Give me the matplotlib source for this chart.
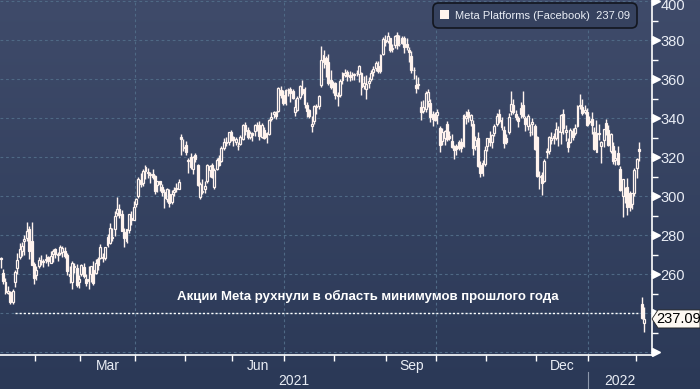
import matplotlib
matplotlib.use("Agg")
import matplotlib.pyplot as plt
import matplotlib.transforms as mtransforms
from matplotlib.colors import LinearSegmentedColormap
from matplotlib.patches import FancyBboxPatch, Polygon, Rectangle
from matplotlib.ticker import MultipleLocator
import numpy as np
import pandas as pd

plt.rcParams["font.family"] = ["Liberation Sans", "DejaVu Sans"]

# Meta Platforms (Facebook) daily candles, 8 Jan 2021 - 4 Feb 2022
opens = [
    268.3, 260.5, 256.0, 250.6, 251.1, 245.8, 256.0, 263.0, 269.0, 272.0, 277.0, 278.5, 283.0, 277.2, 265.4,
    259.5, 264.0, 266.7, 267.0, 267.5, 268.8, 266.0, 270.6, 273.0, 269.8, 270.7, 271.4, 272.0, 269.9, 258.9, 256.0, 263.8, 263.0, 255.9,
    260.4, 263.7, 257.8, 256.6, 260.0, 262.3, 260.7, 268.0, 268.4, 268.7, 268.5, 275.0, 276.0, 279.3, 283.0, 291.6, 293.6, 291.0, 281.8, 277.0, 282.5, 289.0, 288.0,
    296.0, 300.0, 308.5, 307.0, 315.0, 312.0, 310.9, 311.5, 310.5, 306.0, 307.7, 305.0, 302.0, 298.5, 301.0, 297.0, 302.1, 304.5, 304.0, 330.5, 325.0,
    326.2, 318.2, 320.0, 314.0, 321.0, 316.0, 299.5, 302.0, 304.0, 307.7, 313.5, 316.0, 304.8, 314.0, 319.5, 318.0, 325.0, 327.4, 327.7, 333.0,
    330.2, 328.0, 326.0, 327.0, 329.5, 336.7, 334.0, 330.4, 332.6, 333.5, 336.1, 336.5, 330.5, 334.0, 330.2, 332.2, 339.6, 342.2, 343.0, 344.0, 354.5, 352.0,
    347.7, 354.5, 355.0, 354.0, 343.0, 344.5, 351.0, 355.0, 355.0, 347.0, 344.5, 336.0, 338.5, 346.0, 346.5, 357.0, 369.0, 371.0, 369.0, 359.5, 357.0,
    358.1, 352.2, 352.0, 359.5, 362.0, 364.0, 362.0, 362.0, 362.0, 363.0, 362.5, 363.0, 356.8, 355.0, 358.0, 360.0, 364.0, 366.0, 366.6, 364.5, 373.0, 380.0,
    379.6, 381.0, 375.5, 377.6, 382.5, 378.3, 381.0, 381.0, 378.0, 375.0, 372.0, 365.0, 357.0, 357.0, 346.0, 344.0, 345.0, 349.0, 348.0, 342.0, 341.0,
    341.6, 335.0, 328.6, 329.7, 337.0, 331.0, 328.5, 325.0, 326.0, 328.0, 328.0, 326.0, 340.0, 343.0, 339.0, 337.0, 326.0, 330.0, 316.0, 312.0, 316.5,
    326.0, 330.0, 328.0, 332.5, 337.0, 342.0, 339.0, 334.0, 330.0, 333.0, 344.0, 347.0, 342.0, 340.0, 342.0, 347.0, 340.0, 336.0, 333.0, 337.0, 336.0,
    330.3, 310.0, 311.0, 308.0, 323.0, 323.0, 329.0, 331.0, 330.0, 333.0, 333.0, 342.0, 333.0, 328.0, 328.0, 333.5, 332.5, 336.0, 347.0, 346.0, 343.0, 343.5,
    338.3, 339.9, 333.0, 322.8, 332.7, 325.6, 328.8, 337.8, 334.0, 323.1, 326.0, 318.5, 322.0, 314.0, 300.0, 302.0, 304.8, 301.5, 296.0, 301.8,
    314.6, 324.5, 244.6, 235.0,
]
highs = [
    268.8, 262.5, 258.2, 254.0, 251.5, 252.4, 262.2, 270.8, 275.9, 276.7, 280.0, 286.8, 285.0, 286.8, 266.2,
    264.1, 268.9, 269.9, 267.8, 270.3, 269.5, 272.0, 273.0, 273.7, 271.6, 275.0, 274.4, 274.1, 271.0, 264.0, 266.9, 266.0, 265.4, 259.5,
    265.5, 265.9, 260.3, 264.2, 264.3, 266.8, 267.8, 269.1, 275.5, 270.9, 274.0, 280.8, 286.1, 283.5, 292.6, 299.7, 296.0, 293.0, 283.5, 283.2, 291.0, 292.3, 297.8,
    299.0, 310.0, 311.9, 314.0, 316.3, 314.3, 312.3, 314.0, 311.0, 308.0, 308.0, 306.3, 304.0, 304.5, 303.7, 303.0, 304.6, 306.8, 308.9, 331.8, 329.3,
    328.5, 319.5, 322.0, 320.5, 322.0, 316.5, 307.5, 309.0, 307.8, 316.7, 316.0, 317.0, 314.4, 319.6, 321.0, 325.9, 329.9, 330.5, 333.0, 334.0,
    331.0, 330.5, 328.0, 331.2, 337.2, 338.3, 335.6, 333.5, 333.0, 337.0, 338.0, 338.4, 337.6, 335.3, 333.0, 339.7, 343.3, 344.0, 343.9, 356.0, 356.5, 354.4,
    355.0, 355.5, 356.0, 355.0, 350.0, 351.5, 357.0, 359.5, 356.0, 348.5, 345.0, 341.0, 347.0, 347.6, 352.0, 377.0, 374.9, 372.0, 373.0, 364.8, 359.0,
    358.5, 353.5, 360.0, 363.9, 365.5, 365.0, 364.4, 364.0, 363.5, 365.0, 367.5, 364.0, 361.5, 362.0, 361.0, 365.0, 366.8, 369.4, 369.5, 373.0, 381.8, 382.8,
    384.3, 381.4, 378.2, 383.0, 384.3, 382.5, 382.0, 382.0, 381.0, 376.8, 374.5, 366.5, 362.0, 361.0, 349.0, 349.5, 353.9, 355.0, 350.0, 344.0, 343.0,
    345.0, 335.9, 335.2, 334.0, 338.6, 333.5, 332.0, 326.5, 327.0, 329.0, 330.0, 342.0, 344.0, 345.0, 342.0, 339.0, 331.0, 333.0, 318.0, 318.5, 326.0,
    330.0, 333.5, 332.0, 337.0, 342.5, 345.0, 340.5, 336.0, 332.0, 342.8, 353.8, 350.0, 344.5, 341.0, 348.5, 354.0, 341.0, 342.0, 337.0, 340.0, 337.0,
    330.8, 313.0, 312.5, 319.0, 325.0, 331.0, 333.0, 332.5, 338.0, 336.0, 342.0, 345.0, 336.5, 330.0, 335.0, 335.0, 337.0, 346.6, 352.7, 349.7, 347.0, 345.5,
    341.1, 343.1, 335.8, 339.2, 337.0, 328.5, 334.6, 339.6, 336.5, 332.6, 327.8, 323.9, 325.9, 315.5, 308.9, 304.8, 309.5, 302.6, 301.9, 314.5,
    319.7, 328.0, 248.4, 243.0,
]
lows = [
    263.2, 254.8, 249.9, 249.8, 244.7, 245.0, 253.5, 260.4, 268.0, 269.5, 270.0, 277.0, 268.0, 264.7, 254.8,
    257.2, 263.0, 264.9, 263.9, 265.8, 264.0, 265.7, 266.5, 268.4, 266.6, 270.0, 268.8, 268.5, 259.6, 255.5, 252.2, 260.8, 253.7, 253.1,
    259.0, 258.3, 254.0, 252.7, 255.8, 254.7, 260.0, 262.0, 268.0, 266.5, 267.4, 274.1, 275.5, 277.2, 279.6, 290.0, 288.7, 282.0, 274.0, 276.0, 281.4, 285.5, 287.7,
    294.5, 299.2, 304.6, 305.5, 309.1, 309.3, 306.6, 309.0, 301.3, 302.0, 302.8, 300.4, 294.0, 297.3, 294.5, 296.0, 300.0, 302.0, 303.7, 321.2, 323.3,
    321.0, 312.0, 314.0, 311.6, 317.4, 305.5, 298.5, 301.0, 301.5, 307.0, 309.8, 309.6, 303.7, 313.5, 315.6, 317.4, 324.0, 325.6, 326.3, 328.5,
    326.0, 326.3, 324.0, 326.2, 328.9, 331.6, 329.4, 329.5, 328.4, 331.0, 333.5, 328.9, 329.7, 329.5, 327.2, 331.3, 338.5, 340.0, 339.5, 343.2, 350.3, 347.0,
    347.0, 351.6, 348.5, 350.0, 341.0, 344.0, 350.0, 352.0, 345.5, 340.5, 340.0, 333.0, 337.0, 342.0, 345.0, 356.0, 366.0, 361.0, 357.0, 355.0, 353.0,
    350.0, 346.5, 351.0, 357.5, 361.0, 359.0, 359.2, 359.5, 359.8, 361.5, 358.5, 352.0, 355.0, 350.0, 355.5, 359.0, 361.5, 364.5, 363.3, 363.0, 372.5, 377.0,
    378.8, 374.1, 374.0, 376.0, 375.6, 377.0, 378.0, 373.5, 375.0, 369.0, 363.0, 360.0, 353.0, 355.0, 339.0, 342.5, 343.5, 346.0, 338.0, 336.0, 338.5,
    337.0, 322.5, 326.4, 326.4, 328.5, 329.0, 325.0, 319.0, 321.0, 323.5, 322.7, 325.5, 337.0, 338.0, 336.0, 321.0, 323.5, 315.0, 310.0, 310.5, 315.5,
    323.0, 326.0, 325.0, 331.0, 336.0, 337.5, 334.0, 325.0, 327.0, 332.0, 341.5, 342.0, 339.0, 335.5, 340.0, 340.0, 333.5, 334.0, 331.0, 331.5, 323.5,
    310.0, 304.0, 300.5, 307.5, 319.5, 321.5, 327.0, 327.0, 329.0, 326.0, 327.0, 332.0, 328.5, 322.5, 327.5, 329.0, 331.5, 335.5, 345.0, 341.5, 342.0, 336.0,
    337.1, 331.9, 323.8, 322.7, 328.9, 316.9, 325.3, 331.5, 325.8, 322.2, 316.8, 316.2, 316.0, 302.8, 289.6, 296.5, 290.5, 292.7, 293.5, 300.0,
    309.6, 318.3, 237.0, 230.6,
]
closes = [
    267.6, 256.8, 251.1, 251.6, 245.6, 251.4, 261.1, 267.5, 272.9, 274.5, 278.0, 282.1, 272.1, 265.0, 258.3,
    262.0, 267.1, 266.7, 266.5, 268.1, 266.6, 269.5, 271.9, 270.4, 270.5, 274.0, 273.6, 269.4, 261.6, 260.3, 265.9, 264.3, 254.7, 257.6,
    264.9, 259.0, 255.4, 257.6, 264.3, 255.3, 265.7, 264.9, 273.9, 268.4, 273.8, 279.3, 284.0, 278.6, 290.1, 293.5, 290.6, 282.1, 278.7, 283.0, 290.8, 288.0, 294.5,
    298.7, 308.9, 306.3, 313.1, 313.0, 312.5, 311.5, 309.8, 302.8, 307.8, 306.2, 302.2, 299.0, 303.7, 296.5, 301.1, 303.0, 303.6, 307.1, 329.5, 325.1,
    322.6, 318.4, 315.0, 320.0, 319.1, 306.0, 306.5, 302.6, 305.3, 315.9, 315.5, 310.0, 313.6, 318.7, 316.2, 324.6, 327.8, 327.7, 332.8, 328.7,
    329.1, 329.2, 326.0, 330.4, 336.6, 333.7, 330.3, 332.5, 331.3, 336.8, 336.8, 331.1, 336.5, 329.7, 332.3, 339.0, 340.6, 343.2, 341.4, 355.6, 351.9, 347.7,
    354.4, 354.7, 352.8, 350.5, 345.7, 350.4, 356.5, 352.8, 347.3, 344.0, 341.2, 336.9, 346.2, 346.2, 351.2, 369.8, 372.5, 367.8, 358.3, 356.3, 356.3,
    352.0, 351.2, 358.9, 363.0, 363.5, 361.6, 361.3, 362.3, 362.7, 363.2, 366.6, 356.2, 358.0, 357.5, 359.4, 363.4, 365.5, 368.4, 364.4, 372.6, 380.7, 379.4,
    382.1, 375.3, 376.3, 382.2, 377.6, 378.0, 378.7, 376.5, 376.5, 373.9, 364.7, 364.7, 355.7, 357.5, 343.2, 346.0, 353.0, 353.6, 340.7, 339.6, 339.4,
    343.0, 326.2, 333.0, 333.6, 329.2, 330.1, 325.5, 323.8, 324.5, 324.8, 324.8, 341.9, 341.4, 340.8, 341.9, 324.6, 328.7, 315.8, 312.2, 316.9, 323.6,
    330.0, 328.1, 331.6, 335.9, 341.1, 338.6, 335.4, 327.6, 327.7, 340.9, 347.6, 343.0, 340.8, 338.7, 345.3, 341.0, 337.3, 341.1, 333.1, 338.0, 324.5,
    310.6, 310.4, 306.8, 317.9, 322.8, 330.6, 329.8, 329.8, 334.5, 333.7, 341.7, 334.9, 333.8, 325.5, 334.2, 330.5, 335.2, 346.2, 346.2, 342.9, 344.4, 336.4,
    338.5, 336.5, 324.2, 332.5, 331.8, 328.1, 334.4, 333.3, 326.5, 331.9, 318.2, 319.6, 316.6, 303.2, 308.7, 300.2, 294.6, 294.6, 301.7, 313.3,
    319.0, 323.0, 237.8, 237.09,
]

holidays = ["2021-01-18", "2021-02-15", "2021-04-02", "2021-05-31", "2021-07-05",
            "2021-09-06", "2021-11-25", "2021-12-24", "2022-01-17"]
first_day, last_day = "2021-01-08", "2022-02-04"

series_name = "Meta Platforms (Facebook)"
note = "Акции Meta рухнули в область минимумов прошлого года"
low_level = 240
y_ticks = list(range(220, 401, 20))
labelled_months = {3: "Mar", 6: "Jun", 9: "Sep", 12: "Dec"}

# colours
BG_TOP, BG_BOTTOM = "#3f4b6a", "#2b3957"
CANDLE = "#fff3ee"
GRID = "#4f6985"
TEXT = "#e9edf5"
NARROW = ["Liberation Sans Narrow", "Liberation Sans"]

dates = pd.bdate_range(first_day, last_day, freq="C", holidays=holidays)
assert len(dates) == len(closes)

W, H = 700, 389
fig = plt.figure(figsize=(W / 100, H / 100), dpi=100)

# gradient background over the whole figure
bg = fig.add_axes([0, 0, 1, 1], zorder=-10)
grad = np.linspace(0, 1, 256).reshape(-1, 1)
bg.imshow(grad, cmap=LinearSegmentedColormap.from_list("bg", [BG_BOTTOM, BG_TOP]),
          aspect="auto", extent=[0, 1, 0, 1], origin="lower")
bg.axis("off")

ax = fig.add_axes([0, 34 / H, 652 / W, 355 / H])
ax.set_facecolor("none")
ax.set_xlim(-0.3, 274.4)
ax.set_ylim(218.6, 400.7)

# candles: hollow when close >= open, solid otherwise
x = np.arange(len(closes))
o, h, l, c = (np.array(v) for v in (opens, highs, lows, closes))
top, bot = np.maximum(o, c), np.minimum(o, c)
up = c >= o
ax.vlines(x, top, h, color=CANDLE, lw=1.0, zorder=5)
ax.vlines(x, l, bot, color=CANDLE, lw=1.0, zorder=5)
ax.bar(x[up], (top - bot)[up], bottom=bot[up], width=0.8,
       facecolor="none", edgecolor=CANDLE, lw=0.9, zorder=5)
ax.bar(x[~up], (top - bot)[~up], bottom=bot[~up], width=0.8,
       facecolor=CANDLE, edgecolor=CANDLE, lw=0.9, zorder=5)

# last-year-low reference line and note
ax.hlines(low_level, 6, len(closes) - 3.5, color="white", lw=1.0,
          linestyles=(0, (1.5, 1.5)), zorder=4)
fig.text(368 / W, 1 - 296 / H, note, color="white", fontsize=9.5,
         fontweight="bold", ha="center", va="center")

# month boundaries
starts = [i for i in range(1, len(dates)) if dates[i].month != dates[i - 1].month]
bounds = [i - 0.5 for i in starts]
ax.set_xticks(bounds)
ax.set_xticklabels([])
ax.tick_params(axis="x", length=4, width=1, color="white", direction="out")

for i, b in zip(starts, bounds):
    if dates[i].month in (1, 4, 7, 10):
        ax.axvline(b, color=GRID, lw=0.8, ls=(0, (2.5, 2.5)), zorder=1)

edges = bounds + [ax.get_xlim()[1]]
xtrans = mtransforms.blended_transform_factory(ax.transData, ax.transAxes)
for k, i in enumerate(starts):
    m = dates[i].month
    if m in labelled_months:
        ax.text((edges[k] + edges[k + 1]) / 2, -11 / 355, labelled_months[m],
                transform=xtrans, ha="center", va="center", color=TEXT,
                fontsize=10, family=NARROW)

year_split = [b for i, b in zip(starts, bounds) if dates[i].year == 2022][0]
xmin, xmax = ax.get_xlim()
for label, pos in (("2021", (xmin + year_split) / 2), ("2022", (year_split + xmax) / 2)):
    ax.text(pos, -26 / 355, label, transform=xtrans, ha="center", va="center",
            color=TEXT, fontsize=10, family=NARROW)
ax.plot([year_split, year_split], [-17 / 355, -34 / 355], transform=xtrans,
        color="#8c97ab", lw=0.8, clip_on=False)

# right value axis
ax.yaxis.tick_right()
ax.set_yticks(y_ticks)
ax.set_yticklabels(["" if v < 260 else str(v) for v in y_ticks], family=NARROW)
ax.yaxis.set_minor_locator(MultipleLocator(10))
ax.tick_params(axis="y", which="major", length=0, pad=6, labelsize=10.5, labelcolor=TEXT)
ax.tick_params(axis="y", which="minor", length=4, width=1, color="white", direction="out")
# the top label sits a little below its tick, as in the source
top_label = ax.get_yticklabels()[-1]
top_label.set_transform(top_label.get_transform() +
                        mtransforms.ScaledTranslation(0, -3.5 / 100, fig.dpi_scale_trans))
for v in y_ticks:
    ax.axhline(v, color=GRID, lw=0.8, ls=(0, (2.5, 2.5)), zorder=1)
ytrans = mtransforms.blended_transform_factory(ax.transAxes, ax.transData) + \
    mtransforms.ScaledTranslation(3.8 / 100, 0, fig.dpi_scale_trans)
ax.plot(np.ones(len(y_ticks)), y_ticks, ">", ms=5.5, color="white",
        transform=ytrans, clip_on=False)

for side in ("top", "left"):
    ax.spines[side].set_visible(False)
for side in ("bottom", "right"):
    ax.spines[side].set_color("white")
    ax.spines[side].set_linewidth(1.2)

# last price tag
last = closes[-1]
per_px = (ax.get_ylim()[1] - ax.get_ylim()[0]) / 355
tag_trans = mtransforms.blended_transform_factory(fig.transFigure, ax.transData)
tag = Polygon([(652 / W, last), (658 / W, last + 9 * per_px), (1.0, last + 9 * per_px),
               (1.0, last - 9 * per_px), (658 / W, last - 9 * per_px)],
              closed=True, facecolor="#fdf8f2", edgecolor="#222222", lw=0.6,
              transform=tag_trans, clip_on=False, zorder=10)
ax.add_patch(tag)
ax.text(679 / W, last, f"{last:.2f}", transform=tag_trans, ha="center", va="center",
        color="black", fontsize=10.5, family=NARROW, zorder=11, clip_on=False)

# legend box
fig.patches.append(FancyBboxPatch((433 / W, 1 - 28 / H), 204 / W, 25 / H,
                                  boxstyle="round,pad=0,rounding_size=0.008",
                                  mutation_aspect=W / H, facecolor="#36425f",
                                  edgecolor="#12161f", lw=1.2, transform=fig.transFigure))
fig.patches.append(Rectangle((440 / W, 1 - 19 / H), 9 / W, 9 / H, facecolor=CANDLE,
                             edgecolor="none", transform=fig.transFigure))
fig.text(455 / W, 1 - 16 / H, f"{series_name}  {last:.2f}", color=TEXT,
         fontsize=8, ha="left", va="center")

fig.savefig("out.png", dpi=100)
